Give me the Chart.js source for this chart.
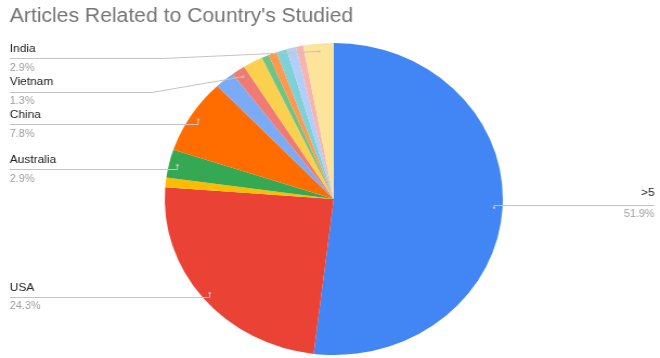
<!DOCTYPE html>
<html>
<head>
<meta charset="utf-8">
<script src="https://cdn.jsdelivr.net/npm/chart.js@4"></script>
<style>
  html, body { margin: 0; padding: 0; background: #fff; overflow: hidden; }
  #wrap {
    position: absolute; left: 0; top: 0;
    width: 609px; height: 358px;
    transform: scaleX(1.0837); transform-origin: 0 0;
  }
</style>
</head>
<body>
<div id="wrap"><canvas id="pie-chart"></canvas></div>
<script>
const chartTitle = "Articles Related to Country's Studied";

const categories = ['>5', 'USA', 'Other 1', 'Australia', 'China', 'Other 2', 'Vietnam',
    'Other 3', 'Other 4', 'Other 5', 'Other 6', 'Other 7', 'Other 8', 'India'];
const percentages = [51.9, 24.3, 1.0, 2.9, 7.8, 1.9, 1.3, 1.9, 0.7, 0.8, 1.0, 0.9, 0.7, 2.9];
const labelled = ['>5', 'USA', 'Australia', 'China', 'Vietnam', 'India'];

const colors = ['#4285F4', '#EA4335', '#FBBC04', '#34A853', '#FF6D01', '#7BAAF7', '#F07B72',
    '#FCD04F', '#71C287', '#FF994D', '#7ED1D7', '#B3CEFB', '#F7B4AE', '#FDE49B'];

// where the callout labels sit (canvas px, before the horizontal stretch)
const calloutLayout = {
    'India':     { side: 'left',  nameY: 49,  lineY: 58,  pctY: 68,  bendX: 150 },
    'Vietnam':   { side: 'left',  nameY: 82,  lineY: 92,  pctY: 101, bendX: 140 },
    'China':     { side: 'left',  nameY: 115, lineY: 124, pctY: 134 },
    'Australia': { side: 'left',  nameY: 160, lineY: 169, pctY: 179 },
    'USA':       { side: 'left',  nameY: 288, lineY: 297, pctY: 306 },
    '>5':        { side: 'right', nameY: 193, lineY: 205, pctY: 214 }
};

const calloutPlugin = {
    id: 'callouts',
    afterDraw(chart) {
        const ctx = chart.ctx;
        ctx.save();
        ctx.fillStyle = '#757575';
        ctx.font = '19.5px "Liberation Sans"';
        ctx.textBaseline = 'middle';
        ctx.textAlign = 'left';
        ctx.fillText(chartTitle, 9, 17);

        const meta = chart.getDatasetMeta(0);
        const total = percentages.reduce((a, b) => a + b, 0);
        const leftX = 9, rightX = 604;

        labelled.forEach(name => {
            const i = categories.indexOf(name);
            const arc = meta.data[i];
            const lay = calloutLayout[name];
            const mid = (arc.startAngle + arc.endAngle) / 2;
            const r = arc.outerRadius * 0.95;
            const px = arc.x + Math.cos(mid) * r;
            const py = arc.y + Math.sin(mid) * r;
            const pct = (percentages[i] / total * 100).toFixed(1) + '%';

            ctx.strokeStyle = '#c4c4c4';
            ctx.lineWidth = 1;
            ctx.beginPath();
            if (lay.side === 'left') {
                ctx.moveTo(leftX, lay.lineY + 0.5);
                ctx.lineTo(lay.bendX !== undefined ? lay.bendX : px, lay.lineY + 0.5);
                ctx.lineTo(px, py);
            } else {
                ctx.moveTo(px, py);
                ctx.lineTo(px, lay.lineY + 0.5);
                ctx.lineTo(rightX, lay.lineY + 0.5);
            }
            ctx.stroke();
            ctx.fillStyle = '#c4c4c4';
            ctx.beginPath();
            ctx.arc(px, py, 1.2, 0, Math.PI * 2);
            ctx.fill();

            const x = lay.side === 'left' ? leftX : rightX;
            ctx.textAlign = lay.side === 'left' ? 'left' : 'right';
            ctx.fillStyle = '#222222';
            ctx.font = '11px "Liberation Sans"';
            ctx.fillText(name, x, lay.nameY);
            ctx.fillStyle = '#9e9e9e';
            ctx.font = '10px "Liberation Sans"';
            ctx.fillText(pct, x, lay.pctY);
        });
        ctx.restore();
    }
};

new Chart(document.querySelector('#pie-chart').getContext('2d'), {
    type: 'pie',
    data: {
        labels: categories,
        datasets: [{
            data: percentages,
            backgroundColor: colors,
            borderWidth: 0
        }]
    },
    options: {
        responsive: true,
        maintainAspectRatio: false,
        animation: false,
        layout: { padding: { top: 43, bottom: 3, left: 7, right: 0 } },
        plugins: {
            legend: { display: false },
            tooltip: { enabled: false }
        }
    },
    plugins: [calloutPlugin]
});
</script>
</body>
</html>
